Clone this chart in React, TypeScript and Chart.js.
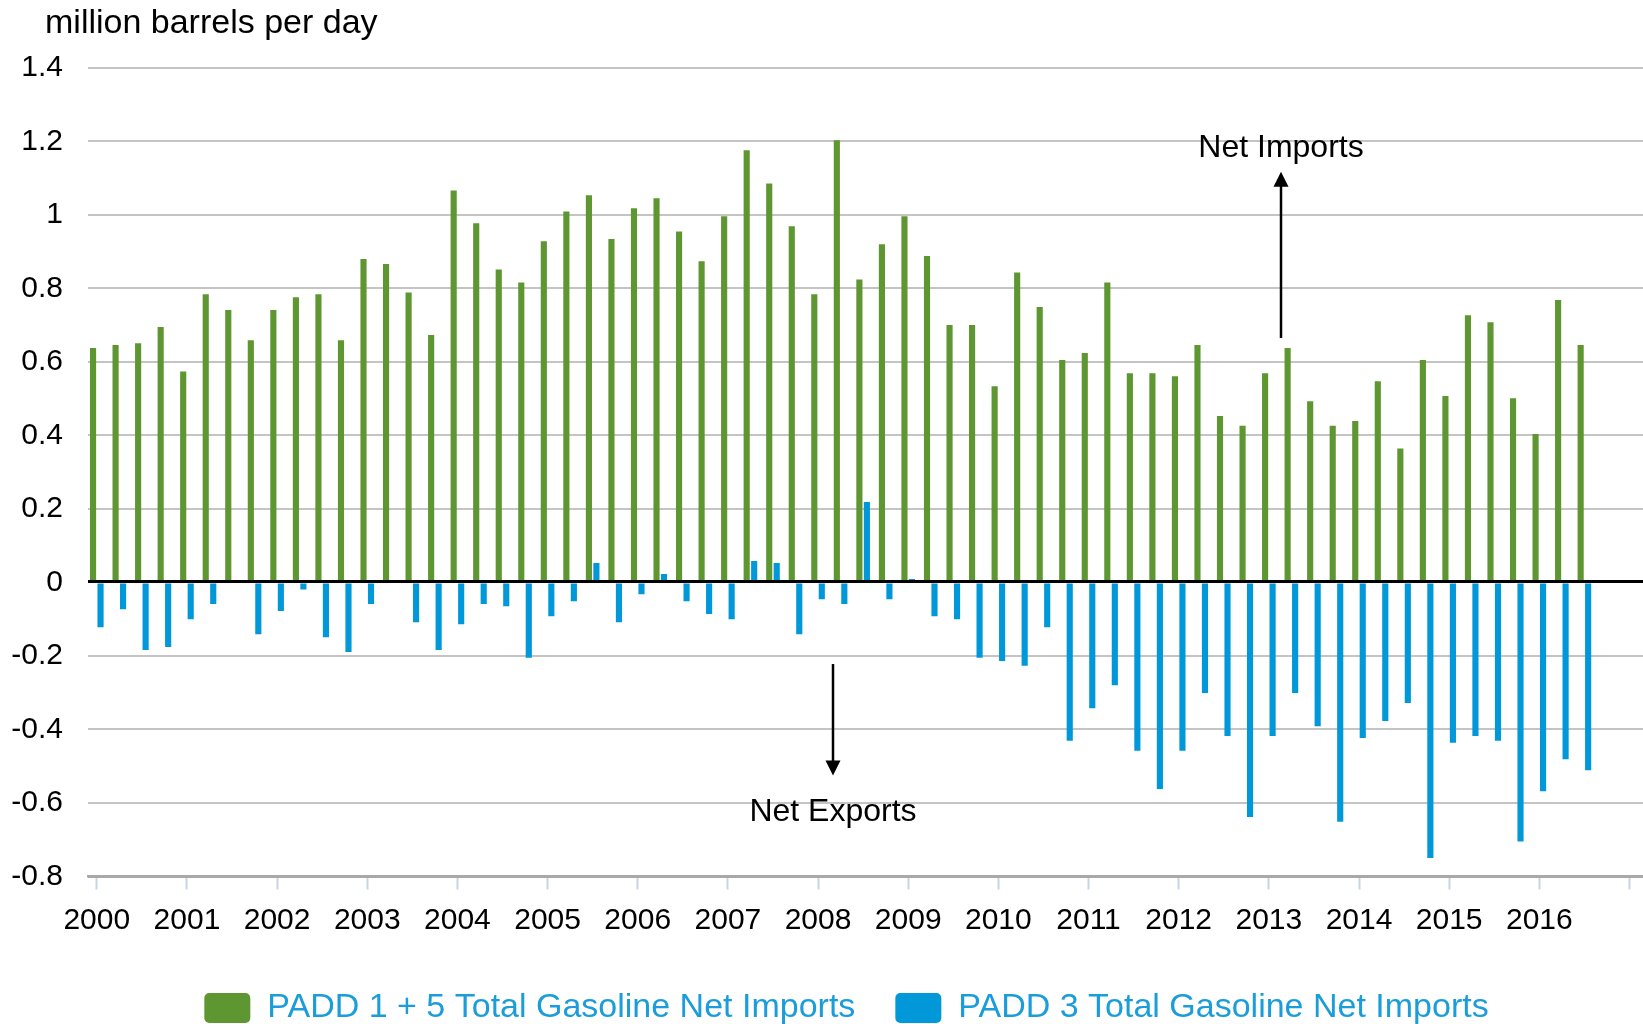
import React, { useEffect, useRef } from 'react';
import { Chart, registerables } from 'chart.js';

Chart.register(...registerables);

// ---- Data (quarterly, 2000 Q1 .. 2016 Q3), million barrels per day ----
const YEAR_LABELS = [
  '2000', '2001', '2002', '2003', '2004', '2005', '2006', '2007', '2008',
  '2009', '2010', '2011', '2012', '2013', '2014', '2015', '2016', '',
];

const PADD_1_5 = [
  0.638, 0.646, 0.651, 0.695,
  0.574, 0.784, 0.741, 0.659,
  0.741, 0.776, 0.784, 0.659,
  0.880, 0.866, 0.789, 0.673,
  1.066, 0.977, 0.851, 0.816,
  0.928, 1.009, 1.053, 0.934,
  1.018, 1.045, 0.955, 0.874,
  0.996, 1.176, 1.085, 0.969,
  0.784, 1.203, 0.824, 0.920,
  0.996, 0.888, 0.700, 0.700,
  0.534, 0.843, 0.749, 0.605,
  0.624, 0.816, 0.569, 0.569,
  0.561, 0.646, 0.453, 0.426,
  0.569, 0.638, 0.493, 0.426,
  0.439, 0.547, 0.364, 0.605,
  0.507, 0.727, 0.708, 0.501,
  0.404, 0.768, 0.646,
];

const PADD_3 = [
  -0.122, -0.073, -0.184, -0.176,
  -0.100, -0.059, null, -0.141,
  -0.078, -0.019, -0.149, -0.189,
  -0.059, null, -0.108, -0.184,
  -0.114, -0.059, -0.065, -0.205,
  -0.092, -0.051, 0.053, -0.108,
  -0.032, 0.023, -0.051, -0.086,
  -0.100, 0.058, 0.053, -0.141,
  -0.046, -0.059, 0.219, -0.046,
  0.009, -0.092, -0.100, -0.205,
  -0.214, -0.227, -0.122, -0.431,
  -0.342, -0.280, -0.458, -0.562,
  -0.458, -0.301, -0.418, -0.638,
  -0.418, -0.301, -0.391, -0.651,
  -0.423, -0.377, -0.328, -0.750,
  -0.436, -0.418, -0.431, -0.705,
  -0.568, -0.481, -0.511,
];

const SERIES_LABELS = [
  'PADD 1 + 5 Total Gasoline Net Imports',
  'PADD 3 Total Gasoline Net Imports',
];

const Y_TITLE = 'million barrels per day';
const Y_MIN = -0.8;
const Y_MAX = 1.4;
const Y_STEP = 0.2;

// Annotations (x in quarter index, y in data units)
const ANNOTATION_TEXT = ['Net Imports', 'Net Exports'];
const ANNOTATION_X = [52.56, 32.67];
const ANNOTATION_TEXT_Y = [1.181, -0.625];
const ANNOTATION_ARROW_FROM = [0.665, -0.222];
const ANNOTATION_ARROW_TO = [1.117, -0.525];

const FONT = "'Liberation Sans', Arial, Helvetica, sans-serif";
const GREEN = '#5e9732';
const BLUE = '#0098d9';

const layoutPlugin = {
  id: 'layoutShift',
  afterLayout(chart: any) {
    if (chart.titleBlock) chart.titleBlock.left = 45;
    if (chart.legend) chart.legend.left += 50;
  },
};

const overlayPlugin = {
  id: 'overlay',
  afterDatasetsDraw(chart: any) {
    const { ctx, chartArea, scales } = chart;
    const x = scales.x;
    const y = scales.y;
    const y0 = y.getPixelForValue(0);
    ctx.save();
    ctx.strokeStyle = '#000';
    ctx.lineWidth = 3;
    ctx.beginPath();
    ctx.moveTo(chartArea.left, y0 - 1);
    ctx.lineTo(chartArea.right, y0 - 1);
    ctx.stroke();

    ANNOTATION_TEXT.forEach((text, i) => {
      const px = Math.round(x.getPixelForValue(ANNOTATION_X[i]));
      const from = y.getPixelForValue(ANNOTATION_ARROW_FROM[i]);
      const to = y.getPixelForValue(ANNOTATION_ARROW_TO[i]);
      const dir = to < from ? -1 : 1;
      const head = 15;
      ctx.strokeStyle = '#000';
      ctx.fillStyle = '#000';
      ctx.lineWidth = 2.5;
      ctx.beginPath();
      ctx.moveTo(px, from);
      ctx.lineTo(px, to - dir * (head - 2));
      ctx.stroke();
      ctx.beginPath();
      ctx.moveTo(px, to);
      ctx.lineTo(px - 7.5, to - dir * head);
      ctx.lineTo(px + 7.5, to - dir * head);
      ctx.closePath();
      ctx.fill();
      ctx.font = `32px ${FONT}`;
      ctx.textAlign = 'center';
      ctx.textBaseline = 'middle';
      ctx.fillText(text, px, y.getPixelForValue(ANNOTATION_TEXT_Y[i]));
    });
    ctx.restore();
  },
};

export default function App() {
  const canvasRef = useRef<HTMLCanvasElement | null>(null);

  useEffect(() => {
    const canvas = canvasRef.current;
    if (!canvas) return;
    const chart = new Chart(canvas, {
      type: 'bar',
      data: {
        datasets: [
          {
            label: SERIES_LABELS[0],
            data: PADD_1_5.map((v, i) => ({ x: i, y: v })),
            backgroundColor: GREEN,
            borderWidth: 0,
            categoryPercentage: 0.665,
            barPercentage: 0.82,
          },
          {
            label: SERIES_LABELS[1],
            data: PADD_3.map((v, i) => ({ x: i, y: v })),
            backgroundColor: BLUE,
            borderWidth: 0,
            categoryPercentage: 0.665,
            barPercentage: 0.82,
          },
        ] as any,
      },
      options: {
        animation: false,
        responsive: false,
        layout: { padding: { left: 0, right: 0, top: 0, bottom: -11 } },
        plugins: {
          title: {
            display: true,
            text: Y_TITLE,
            align: 'start',
            color: '#000',
            font: { size: 34, family: FONT, weight: 'normal' },
            padding: { top: 3, bottom: 24 },
          },
          legend: {
            position: 'bottom',
            labels: {
              boxWidth: 46,
              boxHeight: 30,
              padding: 40,
              color: '#1b9dd9',
              font: { size: 34, family: FONT },
              useBorderRadius: true,
              borderRadius: 5,
            },
          },
          tooltip: { enabled: false },
        },
        scales: {
          x: {
            type: 'linear',
            min: -0.39,
            max: 68.6,
            offset: false,
            afterBuildTicks: (scale: any) => {
              scale.ticks = YEAR_LABELS.map((_, i) => ({ value: i * 4 }));
            },
            afterFit: (scale: any) => {
              scale.height = 74.5;
            },
            ticks: {
              autoSkip: false,
              maxRotation: 0,
              padding: 13.5,
              color: '#000',
              font: { size: 30, family: FONT },
              callback: (v: any) => YEAR_LABELS[Math.round(Number(v) / 4)] ?? '',
            },
            grid: {
              offset: false,
              drawOnChartArea: false,
              drawTicks: true,
              tickLength: 13,
              tickWidth: 2,
              tickColor: '#c6d4e4',
              color: '#c6d4e4',
            },
            border: { display: true, color: '#a8a8a8', width: 2.5 },
          },
          y: {
            min: Y_MIN,
            max: Y_MAX,
            afterFit: (scale: any) => {
              scale.width = 88;
            },
            ticks: {
              stepSize: Y_STEP,
              padding: 25,
              color: '#000',
              font: { size: 30, family: FONT },
              callback: (v: any) => {
                const r = Math.round(Number(v) * 10) / 10;
                return r === 0 ? '0' : String(r);
              },
            },
            grid: {
              drawTicks: false,
              lineWidth: 2,
              color: (c: any) => (Math.abs(c.tick.value - Y_MIN) < 1e-6 ? '#a8a8a8' : '#c4c4c4'),
            },
            border: { display: false },
          },
        },
      } as any,
      plugins: [layoutPlugin, overlayPlugin],
    });
    return () => chart.destroy();
  }, []);

  return (
    <div style={{ position: 'absolute', left: 0, top: 0, width: 1643, height: 1024, background: '#fff' }}>
      <canvas ref={canvasRef} width={1643} height={1024} />
    </div>
  );
}
